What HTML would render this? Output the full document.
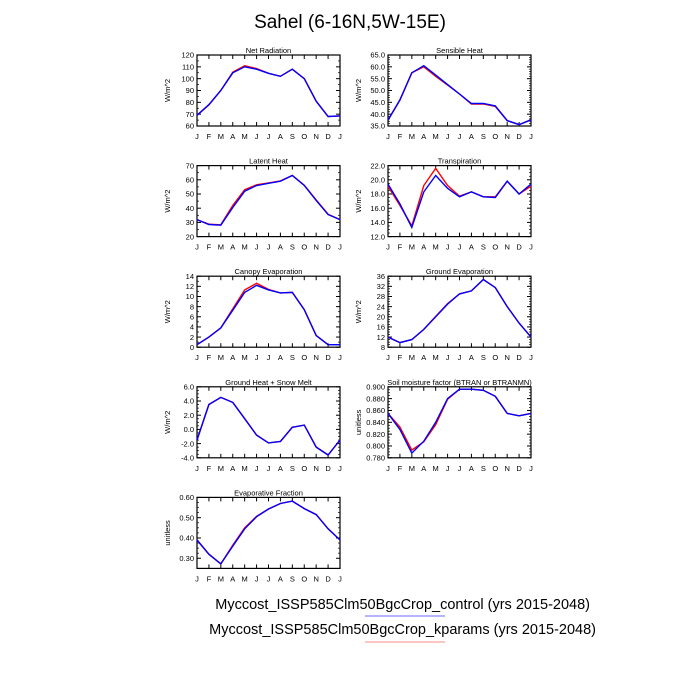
<!DOCTYPE html>
<html><head><meta charset="utf-8"><style>
html,body{margin:0;padding:0;background:#fff;width:700px;height:700px;overflow:hidden}
svg{display:block;font-family:"Liberation Sans",sans-serif}
</style></head><body>
<svg id="s" width="700" height="700" xmlns="http://www.w3.org/2000/svg">
<text x="350" y="28" font-size="19" text-anchor="middle">Sahel (6-16N,5W-15E)</text>
<text x="590" y="609" font-size="14.5" text-anchor="end">Myccost_ISSP585Clm50BgcCrop_control (yrs 2015-2048)</text>
<line x1="365" y1="616" x2="445" y2="616" stroke="#6b6bff" stroke-width="1"/>
<text x="596" y="634" font-size="14.5" text-anchor="end">Myccost_ISSP585Clm50BgcCrop_kparams (yrs 2015-2048)</text>
<line x1="365" y1="642" x2="445" y2="642" stroke="#ff8a8a" stroke-width="1"/>
</svg>
<script>
var P=[
{t:"Net Radiation",u:"W/m^2",c:0,r:0,lo:60,hi:120,ticks:[60,70,80,90,100,110,120],d:0,mn:2,
b:[69,78,90,105,110,108,104.5,102,108,100,81,68,68.5],rd:[69,78,90,105.5,111,108.5,104.5,102,108,100,81,68,68.5]},
{t:"Sensible Heat",u:"W/m^2",c:1,r:0,lo:35,hi:65,ticks:[35,40,45,50,55,60,65],d:1,mn:5,
b:[37.5,46,57.5,60.5,56.5,52.5,48.5,44.5,44.5,43.5,37.3,35.6,37.6],rd:[37.5,46,57.5,60,56,52.3,48.5,44.3,44.3,43.3,37.3,35.6,37.6]},
{t:"Latent Heat",u:"W/m^2",c:0,r:1,lo:20,hi:70,ticks:[20,30,40,50,60,70],d:0,mn:2,
b:[32,28.5,28,40.5,52,56,57.5,59,63,56,45.5,35.5,32],rd:[32,28.7,28.3,42,53,56.5,57.8,59.2,63,56.2,45.8,35.8,32]},
{t:"Transpiration",u:"W/m^2",c:1,r:1,lo:12,hi:22,ticks:[12,14,16,18,20,22],d:1,mn:4,
b:[19.4,16.6,13.3,18.3,20.6,18.8,17.6,18.3,17.6,17.5,19.8,18,19.4],rd:[19.1,16.4,13.5,19.2,21.6,19.2,17.7,18.3,17.6,17.6,19.8,18,19.1]},
{t:"Canopy Evaporation",u:"W/m^2",c:0,r:2,lo:0,hi:14,ticks:[0,2,4,6,8,10,12,14],d:0,mn:2,
b:[0.5,2,3.8,7.3,10.8,12.2,11.3,10.7,10.8,7.4,2.3,0.5,0.5],rd:[0.5,2,3.8,7.6,11.3,12.6,11.4,10.7,10.8,7.4,2.3,0.5,0.5]},
{t:"Ground Evaporation",u:"W/m^2",c:1,r:2,lo:8,hi:36,ticks:[8,12,16,20,24,28,32,36],d:0,mn:4,
b:[12,9.8,11,15,20,25,29,30.2,34.7,31.5,24,17.5,12],rd:[12,9.8,11,15,20.2,25.2,29,30.2,34.7,31.5,24,17.5,12]},
{t:"Ground Heat + Snow Melt",u:"W/m^2",c:0,r:3,lo:-4,hi:6,ticks:[-4,-2,0,2,4,6],d:1,mn:4,
b:[-1.5,3.5,4.5,3.8,1.5,-0.8,-1.9,-1.7,0.3,0.6,-2.5,-3.6,-1.5],rd:[-1.5,3.5,4.5,3.8,1.5,-0.8,-1.9,-1.7,0.3,0.6,-2.5,-3.6,-1.5]},
{t:"Soil moisture factor (BTRAN or BTRANMN)",u:"unitless",c:1,r:3,lo:0.78,hi:0.90,ticks:[0.78,0.8,0.82,0.84,0.86,0.88,0.9],d:3,mn:4,
b:[0.855,0.828,0.788,0.808,0.840,0.880,0.896,0.896,0.894,0.884,0.855,0.851,0.855],rd:[0.855,0.832,0.793,0.807,0.836,0.879,0.896,0.896,0.894,0.884,0.855,0.851,0.855]},
{t:"Evaporative Fraction",u:"unitless",c:0,r:4,lo:0.25,hi:0.6,ticks:[0.3,0.4,0.5,0.6],d:2,mn:4,
b:[0.39,0.32,0.272,0.36,0.445,0.505,0.543,0.57,0.582,0.545,0.515,0.445,0.39],rd:[0.39,0.32,0.272,0.365,0.45,0.507,0.543,0.57,0.582,0.545,0.515,0.445,0.39]}
];
var M="JFMAMJJASONDJ";
var s=document.getElementById("s"),h="";
P.forEach(function(p){
 var x0=p.c?388:197,x1=x0+143,y0=55+p.r*110.6,y1=y0+71;
 var X=function(i){return x0+(x1-x0)*i/12},Y=function(v){return y1-(v-p.lo)/(p.hi-p.lo)*(y1-y0)};
 h+='<text x="'+(x0+x1)/2+'" y="'+(y0-2)+'" font-size="7.5" text-anchor="middle">'+p.t+'</text>';
 h+='<rect x="'+x0+'" y="'+y0+'" width="143" height="71" fill="none" stroke="#000" stroke-width="1.2"/>';
 for(var i=0;i<13;i++){var x=X(i);
  h+='<line x1="'+x+'" y1="'+y1+'" x2="'+x+'" y2="'+(y1-4)+'" stroke="#000"/><line x1="'+x+'" y1="'+y0+'" x2="'+x+'" y2="'+(y0+4)+'" stroke="#000"/>';
  h+='<text x="'+x+'" y="'+(y1+13)+'" font-size="7.5" text-anchor="middle">'+M[i]+'</text>';}
 p.ticks.forEach(function(v,k){var y=Y(v);
  h+='<line x1="'+x0+'" y1="'+y+'" x2="'+(x0+4)+'" y2="'+y+'" stroke="#000"/><line x1="'+x1+'" y1="'+y+'" x2="'+(x1-4)+'" y2="'+y+'" stroke="#000"/>';
  h+='<text x="'+(x0-3)+'" y="'+(y+2.7)+'" font-size="7.5" text-anchor="end">'+v.toFixed(p.d)+'</text>';
  if(k<p.ticks.length-1){var st=(p.ticks[k+1]-v)/p.mn;for(var j=1;j<p.mn;j++){var yy=Y(v+st*j);
   h+='<line x1="'+x0+'" y1="'+yy+'" x2="'+(x0+2)+'" y2="'+yy+'" stroke="#000" stroke-width=".7"/><line x1="'+x1+'" y1="'+yy+'" x2="'+(x1-2)+'" y2="'+yy+'" stroke="#000" stroke-width=".7"/>';}}
 });
 h+='<text transform="translate('+(x0-27)+','+((y0+y1)/2)+') rotate(-90)" font-size="7.5" text-anchor="middle">'+p.u+'</text>';
 var pl=function(a,c){return '<polyline fill="none" stroke="'+c+'" stroke-width="1.4" points="'+a.map(function(v,i){return X(i).toFixed(1)+','+Y(v).toFixed(1)}).join(' ')+'"/>'};
 h+=pl(p.rd,"#ff0000")+pl(p.b,"#0000ff");
});
s.insertAdjacentHTML("beforeend",h);
</script>
</body></html>
